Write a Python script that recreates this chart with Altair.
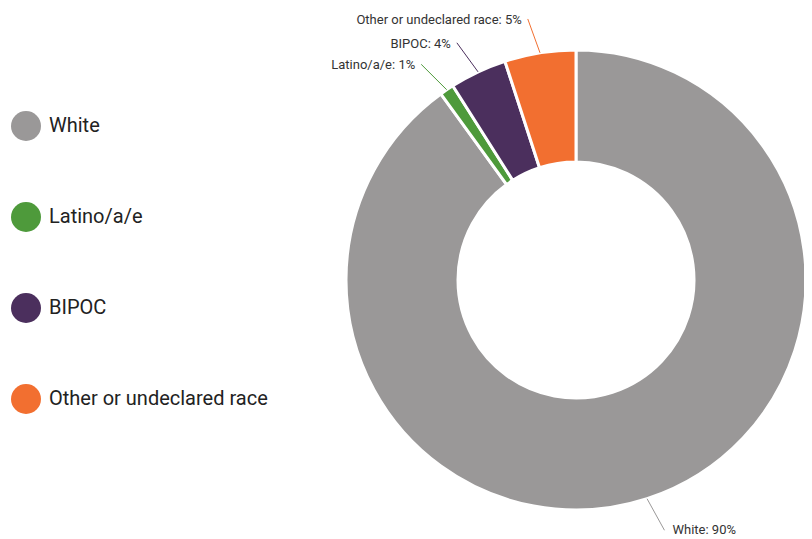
import altair as alt
import pandas as pd

categories = ["White", "Latino/a/e", "BIPOC", "Other or undeclared race"]
values = [90, 1, 4, 5]
colors = ["#9a9898", "#4e9a3b", "#4b2f5d", "#f26f30"]

df = pd.DataFrame({"cat": categories, "val": values, "ord": list(range(len(categories)))})

CX, CY = 568, 272
R_OUT, R_IN = 230, 118
LINE_LEN = 36
TILT = -0.19  # radians, counter-clockwise tilt of leader lines

color = alt.Color(
    "cat:N",
    scale=alt.Scale(domain=categories, range=colors),
    legend=alt.Legend(
        title=None,
        orient="none",
        legendX=3,
        legendY=103,
        symbolType="circle",
        symbolSize=900,
        symbolStrokeWidth=0,
        labelFontSize=20,
        labelFont="Roboto",
        labelColor="#222222",
        labelOffset=8,
        labelLimit=400,
        rowPadding=61,
        padding=0,
    ),
)

arc = alt.Chart(df).mark_arc(
    innerRadius=R_IN, outerRadius=R_OUT, stroke="white", strokeWidth=3, x=CX, y=CY
).encode(
    theta=alt.Theta("val:Q", stack=True),
    order=alt.Order("ord:Q"),
    color=color,
)

base = alt.Chart(df).transform_joinaggregate(
    total="sum(val)"
).transform_window(
    cum="sum(val)", sort=[alt.SortField("ord")]
).transform_calculate(
    a="(datum.cum - datum.val/2) / datum.total * 2 * PI",
).transform_calculate(
    x0=f"{CX} + {R_OUT} * sin(datum.a)",
    y0=f"{CY} - {R_OUT} * cos(datum.a)",
    x1=f"{CX} + {R_OUT} * sin(datum.a) + {LINE_LEN} * sin(datum.a + ({TILT}))",
    y1=f"{CY} - {R_OUT} * cos(datum.a) - {LINE_LEN} * cos(datum.a + ({TILT}))",
    label="datum.cat + ': ' + datum.val + '%'",
)

rules = base.mark_rule(strokeWidth=1).encode(
    x=alt.X("x0:Q", scale=None),
    y=alt.Y("y0:Q", scale=None),
    x2="x1:Q",
    y2="y1:Q",
    color=alt.Color("cat:N", scale=alt.Scale(domain=categories, range=colors), legend=None),
)

text_left = base.transform_filter(f"datum.x1 < {CX}").mark_text(
    align="right", baseline="middle", dx=-6, dy=1, fontSize=13, font="Roboto", color="#333333"
).encode(
    x=alt.X("x1:Q", scale=None),
    y=alt.Y("y1:Q", scale=None),
    text="label:N",
)

text_right = base.transform_filter(f"datum.x1 >= {CX}").mark_text(
    align="left", baseline="middle", dx=8, dy=0, fontSize=13, font="Roboto", color="#333333"
).encode(
    x=alt.X("x1:Q", scale=None),
    y=alt.Y("y1:Q", scale=None),
    text="label:N",
)

chart = alt.layer(arc, rules, text_left, text_right).properties(
    width=796, height=531, padding=0, autosize=alt.AutoSizeParams(type="none")
).configure_view(stroke=None)

chart.save("out.html", embed_options={"renderer": "svg", "actions": False})
